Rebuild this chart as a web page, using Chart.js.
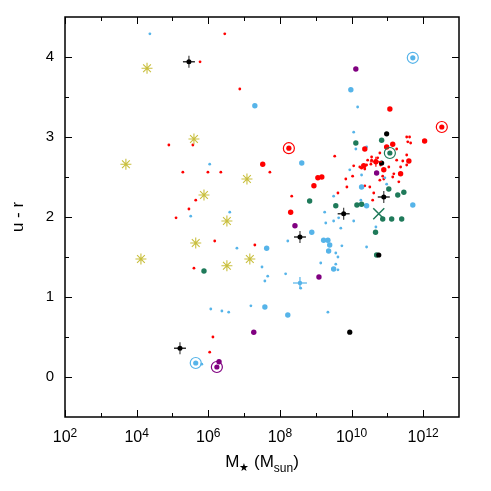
<!DOCTYPE html>
<html>
<head>
<meta charset="utf-8">
<script src="https://cdn.jsdelivr.net/npm/chart.js@4/dist/chart.umd.min.js"></script>
<style>html,body{margin:0;background:#fff}</style>
</head>
<body>
<canvas id="chart" width="491" height="491"></canvas>
<script>
// log10(M*/Msun) and u - r for each group of points
const redSmallM = [6.46,5.77,6.88,4.90,5.57,5.29,5.99,6.35,7.72,5.65,5.46,5.10,6.18,7.30,5.60,6.13,6.04,9.53,10.06,10.03,9.84,9.87,9.62,8.33,11.54,11.62,11.57,11.65,11.26,11.54,11.43,11.37,11.04,11.15,10.87,10.79,10.56,10.56,10.45,10.42,10.28,10.37,10.23,10.51,10.62,11.32,10.79,10.90,10.59,10.37,11.18,11.54,11.26,10.73,10.81,10.54];
const redSmallUR = [4.29,3.94,3.60,2.90,2.90,2.56,2.56,2.56,2.56,2.21,2.10,1.99,1.70,1.65,1.36,0.50,0.31,2.76,2.64,2.51,2.475,2.375,2.30,2.26,3.00,3.00,2.94,2.925,2.85,2.775,2.70,2.625,2.625,2.50,2.51,2.80,2.75,2.71,2.71,2.65,2.61,2.60,2.625,2.375,2.30,2.44,2.46,2.475,2.21,2.39,2.54,2.65,2.71,2.74,2.65,2.66];

const redBigM = [11.07,10.37,10.98,11.15,12.04,11.60,10.34,10.90,11.37,7.52,9.06,9.17,8.95,8.30,10.68];
const redBigUR = [3.35,2.85,2.875,2.91,2.95,2.70,2.64,2.59,2.54,2.66,2.49,2.50,2.39,2.06,2.69];

const redRingM = [8.25,12.52];
const redRingUR = [2.86,3.125];
const redCrossM = [10.68];
const redCrossUR = [2.69];

const blueSmallM = [4.37,6.04,6.60,5.51,6.80,7.50,7.66,7.58,8.16,8.58,6.07,6.38,6.57,5.82,7.19,9.34,8.22,9.73,10.42,9.56,9.62,9.14,9.56,9.62,9.25,9.28,9.50,9.64,9.70,10.06,10.17,10.06,10.12,10.42,9.95,10.28,10.93,10.98,10.26,9.50,10.68];
const blueSmallUR = [4.29,2.66,2.06,2.01,1.61,1.375,1.26,1.20,1.29,1.11,0.85,0.825,0.81,0.16,0.89,0.81,1.70,1.64,1.625,1.55,1.50,1.425,1.41,1.34,2.06,1.925,1.95,1.99,1.86,1.95,3.375,3.06,2.85,2.875,2.59,2.525,2.49,2.41,2.21,2.26,1.875];

const blueBigM = [7.30,9.98,8.61,10.28,10.42,11.71,8.89,7.63,9.22,9.34,9.39,9.36,9.50,7.58,8.22];
const blueBigUR = [3.39,3.59,2.675,2.375,2.14,2.15,1.81,1.61,1.71,1.71,1.65,1.575,1.35,0.875,0.775];

const blueRingM = [11.71,5.65];
const blueRingUR = [3.99,0.175];
const bluePlusM = [8.56];
const bluePlusUR = [1.175];

const greenM = [10.84,10.12,11.04,11.29,11.46,8.83,9.56,10.15,10.28,10.87,11.12,11.40,10.67,10.70,5.88];
const greenUR = [2.96,2.925,2.35,2.275,2.31,2.20,2.14,2.15,2.16,1.975,1.975,1.975,1.81,1.525,1.325];
const greenRingM = [11.07];
const greenRingUR = [2.80];
const greenXM = [10.76];
const greenXUR = [2.04];

const purpleM = [10.12,10.70,8.42,9.09,7.27,6.30];
const purpleUR = [3.85,2.55,1.89,1.25,0.56,0.19];
const purpleRingM = [6.24];
const purpleRingUR = [0.125];

const blackM = [10.98,10.84,9.95,10.76];
const blackUR = [3.04,2.675,0.56,1.525];
const blackCrossM = [5.46,5.21,8.56,9.78,10.90];
const blackCrossUR = [3.94,0.36,1.75,2.04,2.25];

const starM = [4.29,3.70,5.60,5.88,7.08,6.52,5.65,4.12,6.52,7.16];
const starUR = [3.86,2.66,2.975,2.275,2.475,1.95,1.675,1.475,1.39,1.475];

const xMajorPowers = [2,4,6,8,10,12];
const xMinorPowers = [3,5,7,9,11];
const yMajorTicks = [0,1,2,3,4];
const yMinorTicks = [0.5,1.5,2.5,3.5];

const RED = '#ff0000', BLUE = '#56b4e9', GREEN = '#1f7a5a', PURPLE = '#800080', BLACK = '#000000', OLIVE = '#c9bf3e';
const FONT = "'Liberation Sans', Arial, Helvetica, sans-serif";

function pts(ms, urs) {
  return ms.map((m, i) => ({ x: Math.pow(10, m), y: urs[i] }));
}

function dots(ms, urs, color, r) {
  return { data: pts(ms, urs), pointStyle: 'circle', pointRadius: r, pointBackgroundColor: color, pointBorderColor: color, pointBorderWidth: 0 };
}
function marks(ms, urs, style, color, r, bw, rot) {
  return { data: pts(ms, urs), pointStyle: style, pointRadius: r, pointBackgroundColor: 'rgba(0,0,0,0)', pointBorderColor: color, pointBorderWidth: bw, pointRotation: rot || 0 };
}

const datasets = [
  dots(redSmallM, redSmallUR, RED, 1.4),
  dots(blueSmallM, blueSmallUR, BLUE, 1.4),
  dots(blueBigM, blueBigUR, BLUE, 2.7),
  dots(redBigM, redBigUR, RED, 2.7),
  dots(greenM, greenUR, GREEN, 2.7),
  dots(purpleM, purpleUR, PURPLE, 2.7),
  dots(blackM, blackUR, BLACK, 2.6),
  marks(starM, starUR, 'star', OLIVE, 5.5, 1.1),
  marks(redRingM, redRingUR, 'circle', RED, 5.5, 1.2),
  marks(blueRingM, blueRingUR, 'circle', BLUE, 5.5, 1.2),
  marks(greenRingM, greenRingUR, 'circle', GREEN, 5.5, 1.2),
  marks(purpleRingM, purpleRingUR, 'circle', PURPLE, 5.5, 1.2),
  dots(redRingM, redRingUR, RED, 2.6),
  dots(blueRingM, blueRingUR, BLUE, 2.6),
  dots(greenRingM, greenRingUR, GREEN, 2.6),
  dots(purpleRingM, purpleRingUR, PURPLE, 2.6),
  marks(greenXM, greenXUR, 'crossRot', GREEN, 7.8, 1.5),
  marks(redCrossM, redCrossUR, 'line', RED, 6, 1.2),
  marks(redCrossM, redCrossUR, 'line', RED, 5, 1.2, 90),
  marks(bluePlusM, bluePlusUR, 'line', BLUE, 7, 1.2),
  marks(bluePlusM, bluePlusUR, 'line', BLUE, 6, 1.2, 90),
  dots(bluePlusM, bluePlusUR, BLUE, 2.2),
  marks(blackCrossM, blackCrossUR, 'line', BLACK, 6, 1.2),
  marks(blackCrossM, blackCrossUR, 'line', '#444444', 6, 1.2, 90),
  dots(blackCrossM, blackCrossUR, BLACK, 2.5)
];
datasets.forEach((d, i) => { d.order = datasets.length - i; });

const frame = {
  id: 'frame',
  afterDraw(chart) {
    const { ctx, chartArea: a, scales: { x, y } } = chart;
    ctx.save();
    ctx.strokeStyle = '#000';
    ctx.lineWidth = 1;
    ctx.beginPath();
    const xt = (p, len) => {
      const px = Math.round(x.getPixelForValue(Math.pow(10, p))) + 0.5;
      ctx.moveTo(px, a.bottom); ctx.lineTo(px, a.bottom - len);
      ctx.moveTo(px, a.top); ctx.lineTo(px, a.top + len);
    };
    const yt = (v, len) => {
      const py = Math.round(y.getPixelForValue(v)) + 0.5;
      ctx.moveTo(a.left, py); ctx.lineTo(a.left + len, py);
      ctx.moveTo(a.right, py); ctx.lineTo(a.right - len, py);
    };
    xMajorPowers.forEach(p => xt(p, 7));
    xMinorPowers.forEach(p => xt(p, 4));
    yMajorTicks.forEach(v => yt(v, 7));
    yMinorTicks.forEach(v => yt(v, 4));
    ctx.stroke();
    ctx.lineWidth = 1.5;
    ctx.strokeRect(a.left, a.top, a.right - a.left, a.bottom - a.top);

    ctx.fillStyle = '#000';
    ctx.textBaseline = 'alphabetic';
    ctx.textAlign = 'left';

    // x tick labels: 10 with a raised exponent
    xMajorPowers.forEach(p => {
      const px = x.getPixelForValue(Math.pow(10, p));
      ctx.font = '16px ' + FONT;
      const wb = ctx.measureText('10').width;
      ctx.font = '12px ' + FONT;
      const we = ctx.measureText(String(p)).width;
      const x0 = px - (wb + we) / 2;
      ctx.font = '16px ' + FONT;
      ctx.fillText('10', x0, a.bottom + 25);
      ctx.font = '12px ' + FONT;
      ctx.fillText(String(p), x0 + wb, a.bottom + 20);
    });

    // x axis title with subscripts
    const parts = [
      { t: 'M', s: 17, dy: 0 },
      { t: '★', s: 11, dy: 4 },
      { t: ' (M', s: 17, dy: 0 },
      { t: 'sun', s: 12, dy: 5 },
      { t: ')', s: 17, dy: 0 }
    ];
    let w = 0;
    parts.forEach(p => { ctx.font = p.s + 'px ' + FONT; p.w = ctx.measureText(p.t).width; w += p.w; });
    let cx = (a.left + a.right) / 2 - w / 2;
    parts.forEach(p => { ctx.font = p.s + 'px ' + FONT; ctx.fillText(p.t, cx, a.bottom + 50 + p.dy); cx += p.w; });
    ctx.restore();
  }
};

new Chart(document.getElementById('chart').getContext('2d'), {
  type: 'scatter',
  data: { datasets },
  options: {
    responsive: false,
    animation: false,
    layout: { padding: { top: 17, right: 32, left: 0, bottom: 0 } },
    plugins: { legend: { display: false }, tooltip: { enabled: false } },
    scales: {
      x: {
        type: 'logarithmic',
        min: 1e2,
        max: 1e13,
        afterBuildTicks: s => { s.ticks = xMajorPowers.map(p => ({ value: Math.pow(10, p) })); },
        afterFit: s => { s.height = 74; s.paddingLeft = 0; s.paddingRight = 0; },
        ticks: { display: false },
        grid: { display: false, drawTicks: false },
        border: { display: false }
      },
      y: {
        min: -0.5,
        max: 4.5,
        afterBuildTicks: s => { s.ticks = yMajorTicks.map(v => ({ value: v })); },
        afterFit: s => { s.width = 65; s.paddingTop = 0; s.paddingBottom = 0; },
        ticks: { font: { family: FONT, size: 15 }, color: '#000', padding: 11 },
        title: { display: true, text: 'u - r', font: { family: FONT, size: 17 }, color: '#000', padding: { top: 8, bottom: 0 } },
        grid: { display: false, drawTicks: false },
        border: { display: false }
      }
    }
  },
  plugins: [frame]
});
</script>
</body>
</html>
